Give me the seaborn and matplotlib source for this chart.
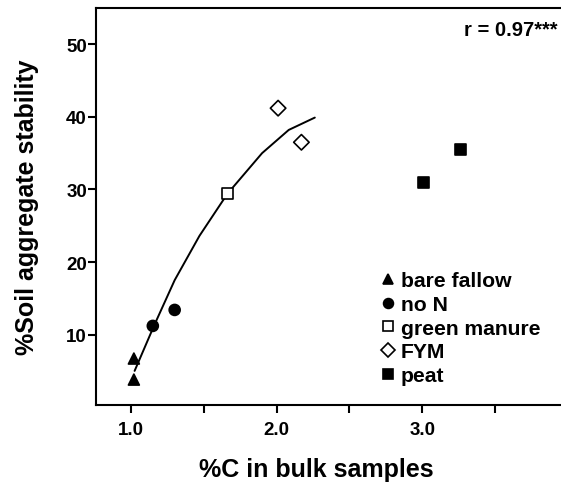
import matplotlib
matplotlib.use("Agg")
import matplotlib.pyplot as plt
import seaborn as sns
import pandas as pd

# ---- data ----
treatments = ["bare fallow", "bare fallow", "no N", "no N", "green manure",
              "FYM", "FYM", "peat", "peat"]
carbon = [1.02, 1.02, 1.15, 1.30, 1.66, 2.01, 2.17, 3.005, 3.265]
stability = [6.7, 3.8, 11.2, 13.4, 29.4, 41.2, 36.5, 31.0, 35.5]

curve_x = [1.025, 1.16, 1.30, 1.47, 1.662, 1.90, 2.083, 2.262]
curve_y = [5.0, 11.3, 17.5, 23.6, 29.4, 35.0, 38.2, 39.9]

order = ["bare fallow", "no N", "green manure", "FYM", "peat"]
markers = {"bare fallow": "^", "no N": "o", "green manure": "s", "FYM": "D", "peat": "s"}
faces = {"bare fallow": "black", "no N": "black", "green manure": "white",
         "FYM": "white", "peat": "black"}

df = pd.DataFrame({"treatment": treatments, "carbon": carbon, "stability": stability})
cdf = pd.DataFrame({"x": curve_x, "y": curve_y})

sns.set_theme(style="white")
plt.rcParams["font.family"] = ["Liberation Sans", "DejaVu Sans"]
plt.rcParams["font.weight"] = "bold"
plt.rcParams["text.color"] = "black"
plt.rcParams["axes.labelcolor"] = "black"
plt.rcParams["xtick.color"] = "black"
plt.rcParams["ytick.color"] = "black"

fig = plt.figure(figsize=(5.61, 4.89), dpi=100)
ax = fig.add_axes([96 / 561, (489 - 406) / 489, 472 / 561, 397 / 489])

sns.lineplot(data=cdf, x="x", y="y", color="black", linewidth=1.4, sort=False,
             ax=ax, legend=False)
sns.scatterplot(data=df, x="carbon", y="stability", hue="treatment", style="treatment",
                hue_order=order, style_order=order, palette=faces, markers=markers,
                edgecolor="black", linewidth=1.2, s=62, ax=ax, zorder=3)

ax.set_xlim(0.76, 4.0)
ax.set_ylim(0.3, 55)
ax.set_xticks([1.0, 1.5, 2.0, 2.5, 3.0, 3.5])
ax.set_xticklabels(["1.0", "", "2.0", "", "3.0", ""])
ax.set_yticks([10, 20, 30, 40, 50])
ax.tick_params(axis="both", direction="out", length=5.5, width=1.5, colors="black",
               labelsize=13.5, left=True, bottom=True)
ax.tick_params(axis="x", pad=6)
ax.tick_params(axis="y", pad=1)
for lab in ax.get_xticklabels() + ax.get_yticklabels():
    lab.set_fontweight("bold")

for side in ["left", "bottom", "top"]:
    ax.spines[side].set_linewidth(1.5)
    ax.spines[side].set_color("black")
ax.spines["right"].set_visible(False)

ax.set_xlabel("%C in bulk samples", fontsize=18, fontweight="bold", color="black")
ax.set_ylabel("%Soil aggregate stability", fontsize=18, fontweight="bold", color="black")
ax.xaxis.set_label_coords((316 - 96) / 472, -(470 - 406) / 397)
ax.yaxis.set_label_coords(-(96 - 27) / 472, 0.5)
ax.xaxis.label.set_va("center")
ax.yaxis.label.set_va("center")

fig.text(557 / 561, 1 - 36 / 489, "r = 0.97***", ha="right", va="baseline",
         fontsize=14.5, fontweight="bold", color="black")

leg = ax.legend(loc="upper left", bbox_to_anchor=((370 - 96) / 472, (406 - 264) / 397),
                frameon=False, fontsize=15.2, handletextpad=0.15, labelspacing=0.22,
                borderaxespad=0, handlelength=0.9, markerscale=0.9)
for t in leg.get_texts():
    t.set_fontweight("bold")
    t.set_color("black")

fig.savefig("out.png", dpi=100)
